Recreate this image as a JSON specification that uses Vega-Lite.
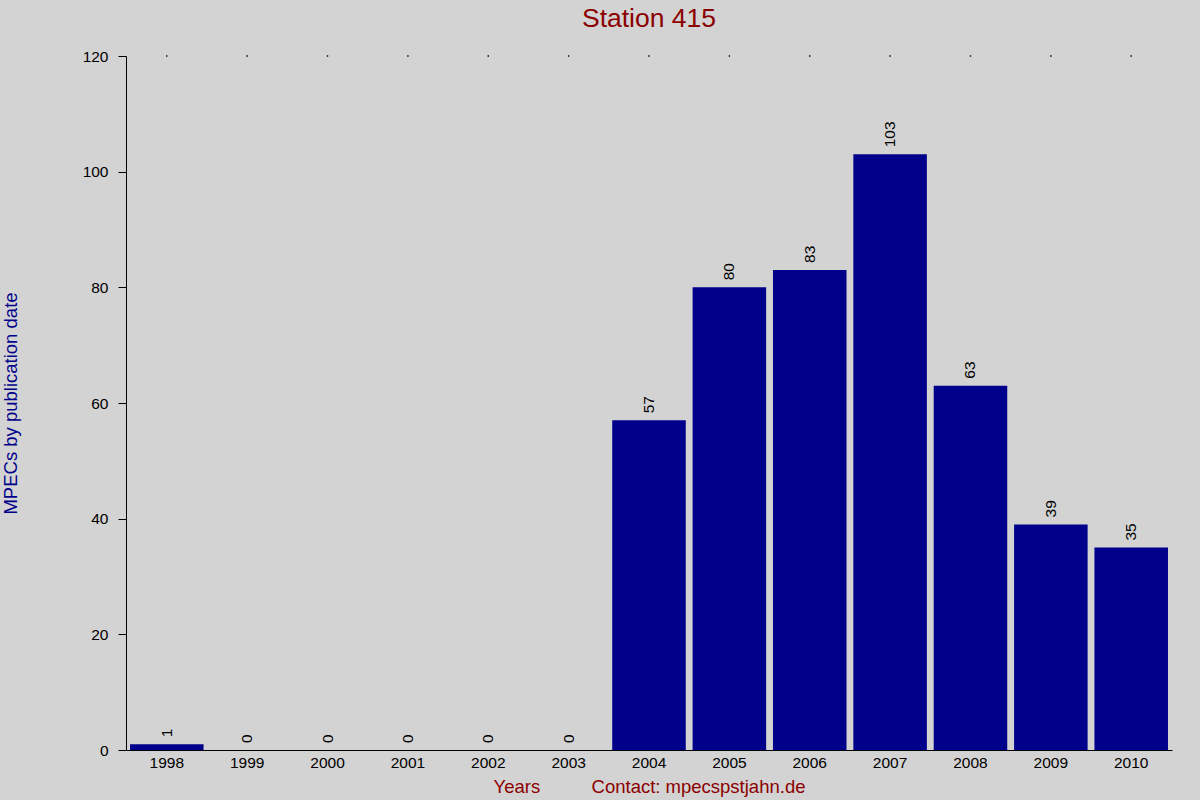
{
  "$schema": "https://vega.github.io/schema/vega-lite/v6.json",
  "autosize": {"type": "none"},
  "width": 1046,
  "height": 694,
  "padding": {"left": 126, "top": 56, "right": 28, "bottom": 50},
  "background": "#d3d3d3",
  "config": {
    "font": "Liberation Sans",
    "view": {"stroke": null},
    "axis": {"domainColor": "black", "tickColor": "black", "labelColor": "black", "labelFontSize": 15.5, "grid": false}
  },
  "title": {
    "text": "Station 415",
    "fontSize": 26.5,
    "fontWeight": "normal",
    "color": "#8b0000",
    "anchor": "middle",
    "offset": 17
  },
  "data": {
    "values": [
      {"year": "1998", "mpecs": 1},
      {"year": "1999", "mpecs": 0},
      {"year": "2000", "mpecs": 0},
      {"year": "2001", "mpecs": 0},
      {"year": "2002", "mpecs": 0},
      {"year": "2003", "mpecs": 0},
      {"year": "2004", "mpecs": 57},
      {"year": "2005", "mpecs": 80},
      {"year": "2006", "mpecs": 83},
      {"year": "2007", "mpecs": 103},
      {"year": "2008", "mpecs": 63},
      {"year": "2009", "mpecs": 39},
      {"year": "2010", "mpecs": 35}
    ]
  },
  "encoding": {
    "x": {
      "field": "year",
      "type": "ordinal",
      "scale": {"paddingInner": 0.085, "paddingOuter": 0.05},
      "axis": {
        "title": "Years\u00a0\u00a0\u00a0\u00a0\u00a0\u00a0\u00a0\u00a0\u00a0\u00a0Contact: mpecspstjahn.de",
        "titleColor": "#8b0000",
        "titleFontSize": 18.5,
        "titleFontWeight": "normal",
        "titleY": 42,
        "titleBaseline": "alphabetic",
        "labelAngle": 0,
        "ticks": false,
        "labelPadding": 5
      }
    },
    "y": {
      "field": "mpecs",
      "type": "quantitative",
      "scale": {"domain": [0, 120], "nice": false},
      "axis": {
        "title": "MPECs by publication date",
        "titleColor": "#00008b",
        "titleFontSize": 18.5,
        "titleFontWeight": "normal",
        "titleX": -116,
        "titleY": 347,
        "titleBaseline": "middle",
        "titleAngle": -90,
        "values": [0, 20, 40, 60, 80, 100, 120],
        "tickSize": 8,
        "labelPadding": 10
      }
    }
  },
  "layer": [
    {"mark": {"type": "bar", "color": "#00008b"}},
    {
      "mark": {"type": "text", "angle": 270, "align": "left", "baseline": "middle", "dx": 7, "fontSize": 15.5, "color": "black"},
      "encoding": {"text": {"field": "mpecs", "type": "quantitative"}}
    },
    {
      "mark": {"type": "square", "size": 2, "color": "black", "opacity": 1},
      "encoding": {"y": {"datum": 120}}
    }
  ]
}
